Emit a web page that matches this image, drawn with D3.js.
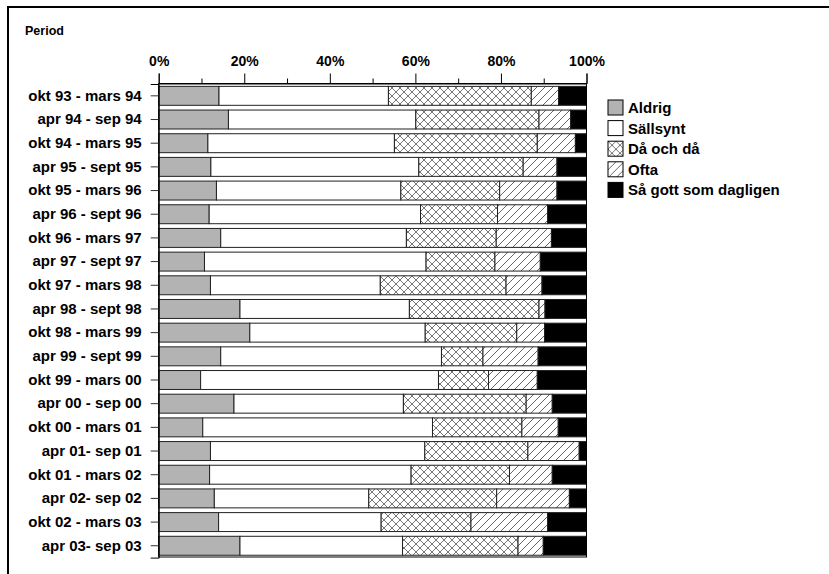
<!DOCTYPE html>
<html>
<head>
<meta charset="utf-8">
<script src="https://cdn.jsdelivr.net/npm/d3@7"></script>
<style>
  html, body { margin: 0; padding: 0; background: #fff; }
  svg { display: block; font-family: "Liberation Sans", Arial, sans-serif; font-weight: bold; }
</style>
</head>
<body>
<svg id="chart" width="829" height="574"></svg>
<script>
// Periods (rows, top to bottom)
const periods = [
  "okt 93 - mars 94", "apr 94 - sep 94", "okt 94 - mars 95", "apr 95 - sept 95",
  "okt 95 - mars 96", "apr 96 - sept 96", "okt 96 - mars 97", "apr 97 - sept 97",
  "okt 97 - mars 98", "apr 98 - sept 98", "okt 98 - mars 99", "apr 99 - sept 99",
  "okt 99 - mars 00", "apr 00 - sep 00", "okt 00 - mars 01", "apr 01- sep 01",
  "okt 01 - mars 02", "apr 02- sep 02", "okt 02 - mars 03", "apr 03- sep 03"
];

// Answer categories (stack order, left to right)
const answers = ["Aldrig", "Sällsynt", "Då och då", "Ofta", "Så gott som dagligen"];

// Shares in percent per period
const aldrig    = [14.1, 16.3, 11.5, 12.2, 13.5, 11.8, 14.5, 10.7, 12.1, 19.0, 21.3, 14.5,  9.8, 17.6, 10.3, 12.1, 11.9, 13.0, 14.0, 19.0];
const sallsynt  = [39.6, 43.8, 43.6, 48.6, 43.1, 49.4, 43.4, 51.8, 39.7, 39.6, 41.0, 51.6, 55.6, 39.6, 53.7, 50.1, 47.1, 36.1, 38.0, 38.0];
const daochda   = [33.4, 28.8, 33.4, 24.4, 23.1, 18.0, 21.0, 16.1, 29.4, 30.3, 21.4,  9.7, 11.7, 28.7, 20.9, 24.1, 23.0, 29.9, 21.0, 27.0];
const ofta      = [ 6.4,  7.4,  8.9,  7.9, 13.4, 11.7, 12.9, 10.6,  8.4,  1.4,  6.5, 12.9, 11.4,  6.1,  8.5, 12.0, 10.0, 17.0, 17.9,  5.9];
const dagligen  = [ 6.5,  3.7,  2.6,  6.9,  6.9,  9.1,  8.2, 10.8, 10.4,  9.7,  9.8, 11.3, 11.5,  8.0,  6.6,  1.7,  8.0,  4.0,  9.1, 10.1];

const xTicks = [0, 20, 40, 60, 80, 100];
const xMinorTicks = [10, 30, 50, 70, 90];

const series = [aldrig, sallsynt, daochda, ofta, dagligen];
const rows = periods.map((p, i) => {
  const r = { period: p };
  answers.forEach((a, k) => { r[a] = series[k][i]; });
  return r;
});

const svg = d3.select("#chart");

// Pattern fills
const defs = svg.append("defs");
const cross = defs.append("pattern").attr("id", "pat-cross")
  .attr("patternUnits", "userSpaceOnUse").attr("width", 8).attr("height", 8);
cross.append("rect").attr("width", 8).attr("height", 8).attr("fill", "#fff");
cross.append("path").attr("d", "M0,0L8,8M0,8L8,0M-1,1L1,-1M7,9L9,7M-1,7L1,9M7,-1L9,1")
  .attr("stroke", "#666").attr("stroke-width", 0.9).attr("fill", "none");

const diag = defs.append("pattern").attr("id", "pat-diag")
  .attr("patternUnits", "userSpaceOnUse").attr("width", 8).attr("height", 8);
diag.append("rect").attr("width", 8).attr("height", 8).attr("fill", "#fff");
diag.append("path").attr("d", "M0,8L8,0M-1,1L1,-1M7,9L9,7")
  .attr("stroke", "#555").attr("stroke-width", 0.9).attr("fill", "none");

const fills = {
  "Aldrig": "#b3b3b3",
  "Sällsynt": "#ffffff",
  "Då och då": "url(#pat-cross)",
  "Ofta": "url(#pat-diag)",
  "Så gott som dagligen": "#000000"
};

// Outer frame
svg.append("rect").attr("x", 8).attr("y", 7).attr("width", 840).attr("height", 600)
  .attr("fill", "none").attr("stroke", "#000").attr("stroke-width", 2);

svg.append("text").attr("x", 25).attr("y", 35).attr("font-size", 12.5).text("Period");

const x = d3.scaleLinear().domain([0, 100]).range([158.7, 586.5]);
const y = d3.scaleBand().domain(periods).range([84, 557.6]).paddingInner(0.2).paddingOuter(0.1);

const stack = d3.stack().keys(answers);
const stacked = stack(rows);

const g = svg.append("g");
g.selectAll("g.layer").data(stacked).join("g")
  .attr("class", "layer")
  .attr("fill", d => fills[d.key])
  .selectAll("rect").data(d => d).join("rect")
  .attr("x", d => x(d[0]))
  .attr("y", d => y(d.data.period))
  .attr("width", d => x(d[1]) - x(d[0]))
  .attr("height", y.bandwidth())
  .attr("stroke", "#222").attr("stroke-width", 1);

// Plot frame
svg.append("rect").attr("x", x(0)).attr("y", 83.5)
  .attr("width", x(100) - x(0)).attr("height", 557 - 83.5)
  .attr("fill", "none").attr("stroke", "#000").attr("stroke-width", 1);

// Top axis
const xAxis = svg.append("g").attr("transform", "translate(0,83.5)")
  .call(d3.axisTop(x).tickValues(xTicks).tickFormat(d => d + "%").tickSize(10).tickPadding(8));
xAxis.select(".domain").attr("stroke", "#000");
xAxis.selectAll("text").attr("font-size", 14).attr("font-family", null).attr("fill", "#000");
xAxis.attr("font-family", null);
svg.append("g").attr("transform", "translate(0,83.5)")
  .call(d3.axisTop(x).tickValues(xMinorTicks).tickFormat("").tickSize(5))
  .call(s => s.select(".domain").remove());

// Left axis
const yAxis = svg.append("g").attr("transform", `translate(${x(0)},0)`)
  .call(d3.axisLeft(y).tickSize(8).tickPadding(9));
yAxis.attr("font-family", null);
yAxis.selectAll("text").attr("font-size", 15).attr("fill", "#000");
yAxis.selectAll(".tick line").attr("stroke", "#333");

// Legend
const legend = svg.append("g").attr("transform", "translate(608,100)");
const li = legend.selectAll("g").data(answers).join("g")
  .attr("transform", (d, i) => `translate(0,${i * 20.6})`);
li.append("rect").attr("width", 15).attr("height", 15)
  .attr("fill", d => fills[d]).attr("stroke", "#000").attr("stroke-width", 1);
li.append("text").attr("x", 20).attr("y", 7.5).attr("dy", "0.36em")
  .attr("font-size", 15).text(d => d);
</script>
</body>
</html>
